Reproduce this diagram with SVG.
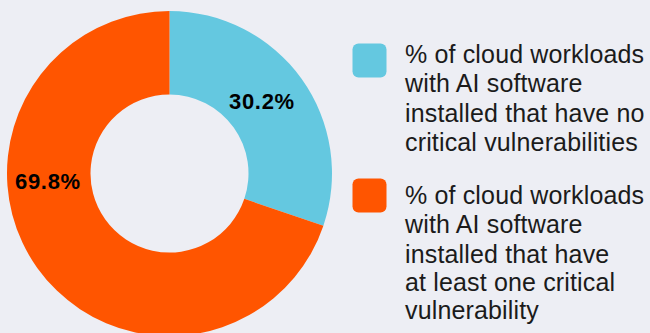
<svg xmlns="http://www.w3.org/2000/svg" width="650" height="333" viewBox="0 0 650 333">
<style>
.lbl{font-family:"Liberation Sans",Arial,sans-serif;font-size:25px;fill:#1b1b1b;letter-spacing:0.15px}
.pct{font-family:"Liberation Sans",Arial,sans-serif;font-size:22px;font-weight:bold;fill:#000;letter-spacing:0.7px}
.cy{fill:#64C8E0}
.or{fill:#FF5500}
</style>
<rect width="650" height="333" fill="#EDEEF4"/>
<g id="donut">
<path class="cy" d="M169.5,11 A162.5,162.5 0 0 1 323.40,225.65 L244.32,198.85 A79,79 0 0 0 169.5,94.5 Z"/>
<path class="or" d="M323.40,225.65 A162.5,162.5 0 1 1 169.5,11 L169.5,94.5 A79,79 0 1 0 244.32,198.85 Z"/>
<text class="pct" x="229" y="108.5">30.2%</text>
<text class="pct" x="15" y="188.5">69.8%</text>
</g>
<g id="legend-no-critical">
<rect class="cy" x="352.5" y="43.5" width="34" height="34" rx="6"/>
<text class="lbl" x="405"><tspan x="405" y="63">% of cloud workloads</tspan><tspan x="405" y="92">with AI software</tspan><tspan x="405" y="121.5">installed that have no</tspan><tspan x="405" y="150.5">critical vulnerabilities</tspan></text>
</g>
<g id="legend-critical">
<rect class="or" x="352.5" y="178.5" width="34" height="34" rx="6"/>
<text class="lbl" x="405"><tspan x="405" y="204">% of cloud workloads</tspan><tspan x="405" y="233">with AI software</tspan><tspan x="405" y="262.5">installed that have</tspan><tspan x="405" y="291">at least one critical</tspan><tspan x="405" y="319">vulnerability</tspan></text>
</g>
</svg>
